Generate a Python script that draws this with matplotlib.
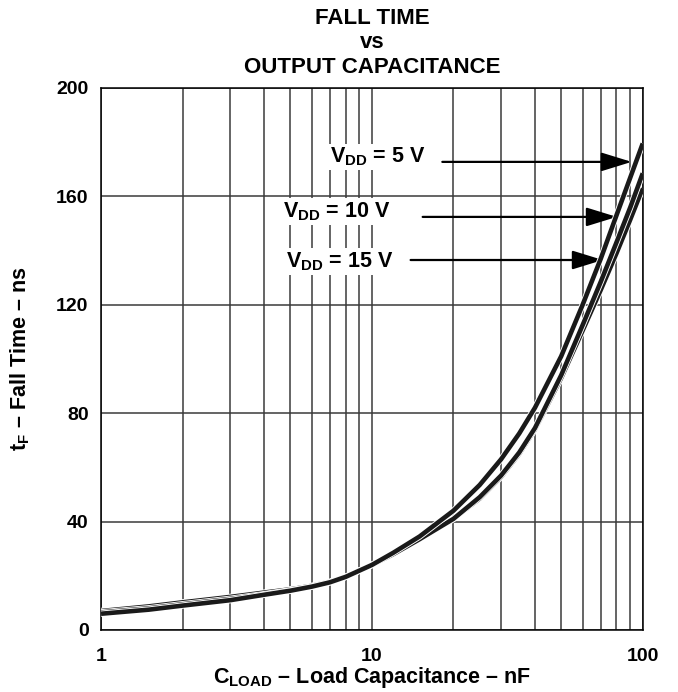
import matplotlib
matplotlib.use("Agg")
import matplotlib.pyplot as plt
import matplotlib.patheffects as pe
import numpy as np

plt.rcParams['font.family'] = ['Liberation Sans', 'DejaVu Sans']
plt.rcParams['font.weight'] = 'bold'
plt.rcParams['mathtext.fontset'] = 'custom'
plt.rcParams['mathtext.rm'] = 'Liberation Sans:bold'
plt.rcParams['mathtext.it'] = 'Liberation Sans:bold'
plt.rcParams['mathtext.bf'] = 'Liberation Sans:bold'

# load capacitance (nF) and fall time (ns)
c_load = [1, 1.5, 2, 3, 4, 5, 6, 7, 8, 10, 12, 15, 20, 25, 30, 35, 40, 50, 60, 70, 80, 90, 100]
tf_5v = [6, 7.5, 9, 11, 13, 14.5, 16, 17.6, 19.6, 24, 28.5, 34.5, 44, 53.5, 63, 72.5,
         82, 101, 120, 137, 153, 167, 179.5]
tf_10v = [6.5, 8, 9.5, 11.5, 13.2, 14.6, 16, 17.6, 19.6, 24, 28, 33.5, 41, 49, 57, 65.5,
          74.5, 94, 112.5, 128.5, 143, 156, 168.5]
tf_15v = [7, 8.7, 10.2, 12.2, 13.8, 15, 16.3, 17.8, 19.6, 24, 28, 33.5, 41, 48.5, 56.5, 65,
          74, 93, 110.5, 125.5, 139, 151.5, 163]

labels = ['5 V', '10 V', '15 V']
# label text position, arrow start, arrow tip (data coords)
label_xy = [(7.0, 174.5), (4.7, 154.5), (4.8, 136)]
arrow_from = [(18.2, 172.7), (15.4, 152.4), (13.9, 136.5)]
arrow_to = [(91, 172.7), (80.2, 152.4), (71.2, 136.5)]

fig = plt.figure(figsize=(6.78, 6.92), dpi=100)
ax = fig.add_axes([0.149, 0.0896, 0.799, 0.7834])

ax.set_xscale('log')
ax.set_xlim(1, 100)
ax.set_ylim(0, 200)
ax.set_yticks([0, 40, 80, 120, 160, 200])
ax.set_xticks([1, 10, 100])
ax.set_xticklabels(['1', '10', '100'])
ax.xaxis.set_minor_locator(matplotlib.ticker.LogLocator(base=10, subs=np.arange(2, 10)))
ax.xaxis.set_minor_formatter(matplotlib.ticker.NullFormatter())
ax.tick_params(which='both', length=0, labelsize=14)
ax.tick_params(axis='x', pad=13)
ax.tick_params(axis='y', pad=9)
ax.grid(True, which='both', color='#3a3a3a', linewidth=1.1)
ax.set_axisbelow(True)
for s in ax.spines.values():
    s.set_linewidth(1.1)

stroke = [pe.Stroke(linewidth=4.6, foreground='white'), pe.Normal()]
for tf in (tf_15v, tf_10v, tf_5v):
    ax.plot(c_load, tf, color='#1a1a1a', linewidth=3.3, path_effects=stroke,
            solid_capstyle='butt', solid_joinstyle='round', zorder=5)

for lab, xy, a0, a1 in zip(labels, label_xy, arrow_from, arrow_to):
    ax.text(xy[0], xy[1], r'$\mathregular{V_{DD}}$ = ' + lab, fontsize=15.5,
            fontweight='bold', va='center', ha='left', zorder=4,
            bbox=dict(facecolor='white', edgecolor='none', pad=1.5))
    ax.annotate('', xy=a1, xytext=a0, zorder=4,
                arrowprops=dict(arrowstyle='-|>,head_length=0.94,head_width=0.29',
                                mutation_scale=20, color='black', lw=1.6,
                                shrinkA=0, shrinkB=0))

ax.set_title('FALL TIME\nvs\nOUTPUT CAPACITANCE', fontsize=16, fontweight='bold',
             linespacing=1.22, pad=11)
ax.set_xlabel(r'$\mathregular{C_{LOAD}}$ – Load Capacitance – nF', fontsize=15.5,
              fontweight='bold', labelpad=0)
ax.set_ylabel(r'$\mathregular{t_{F}}$ – Fall Time – ns', fontsize=15.5,
              fontweight='bold', labelpad=17)

fig.savefig('out.png', dpi=100)
